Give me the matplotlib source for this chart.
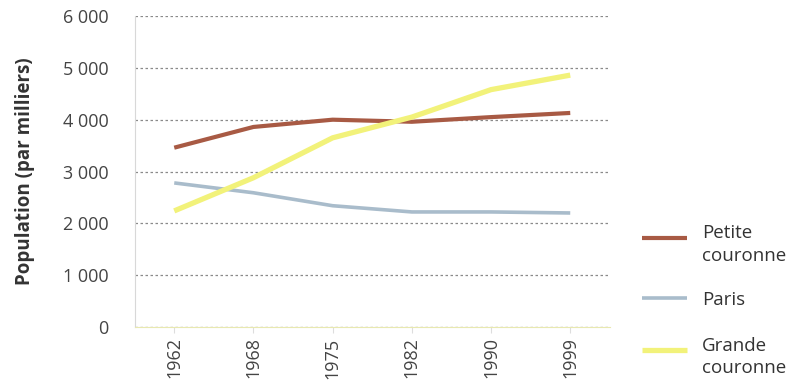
import matplotlib
matplotlib.use("Agg")
import matplotlib.pyplot as plt
from matplotlib.lines import Line2D
from matplotlib.ticker import FuncFormatter

plt.rcParams["font.family"] = ["Open Sans", "DejaVu Sans"]

# valeurs (en milliers)
years = ["1962", "1968", "1975", "1982", "1990", "1999"]
petite_couronne = [3460, 3860, 4000, 3960, 4050, 4130]
paris = [2780, 2590, 2340, 2220, 2220, 2200]
grande_couronne = [2240, 2880, 3650, 4050, 4580, 4860]

labels = ["Petite\ncouronne", "Paris", "Grande\ncouronne"]
colors = ["#a85a44", "#a9bccb", "#f2f27a"]
widths = [3, 2.6, 3.8]

fig = plt.figure(figsize=(7.92, 3.82), dpi=100)
ax = fig.add_axes([0.170, 0.144, 0.600, 0.814])

x = range(len(years))
for serie, c, w in zip([petite_couronne, paris, grande_couronne], colors, widths):
    ax.plot(x, serie, color=c, lw=w, solid_capstyle="butt")

ax.set_xlim(-0.5, len(years) - 0.5)
ax.set_ylim(0, 6000)
ax.set_yticks(range(0, 6001, 1000))
ax.yaxis.set_major_formatter(FuncFormatter(lambda v, p: f"{int(v):,}".replace(",", " ")))
ax.set_xticks(list(x))
ax.set_xticklabels(years, rotation=90)

ax.grid(axis="y", color="#8a8a8a", linestyle=(0, (2, 2)), lw=0.9)
ax.set_axisbelow(True)
for side in ["top", "right"]:
    ax.spines[side].set_visible(False)
ax.spines["left"].set_color("#d8d8d8")
ax.spines["bottom"].set_color("#e8e8b0")
ax.tick_params(axis="y", length=0, pad=19, labelsize=13, labelcolor="#444444")
ax.tick_params(axis="x", length=4, color="#dddddd", labelsize=13, labelcolor="#444444")

ax.set_ylabel("Population (par milliers)", fontsize=13.5, fontweight="bold",
              color="#333333", labelpad=20)

# légende faite à la main (poignée alignée sur la première ligne du texte)
handle_y = [0.377, 0.220, 0.084]
text_y = [0.360, 0.215, 0.065]
for lab, c, w, hy, ty in zip(labels, colors, widths, handle_y, text_y):
    fig.add_artist(Line2D([0.811, 0.867], [hy, hy], color=c, lw=w,
                          solid_capstyle="butt", transform=fig.transFigure))
    fig.text(0.886, ty, lab, fontsize=13.5, color="#333333",
             va="center", linespacing=1.3)

fig.savefig("out.png", dpi=100)
